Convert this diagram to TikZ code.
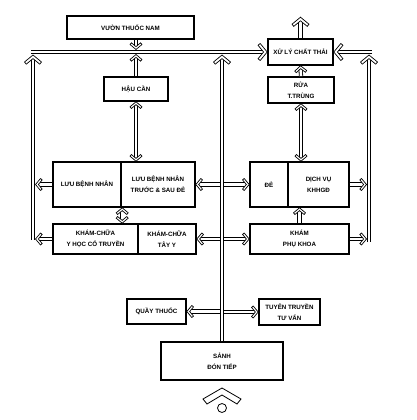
\documentclass[tikz,border=0pt]{standalone}
\usepackage{fontspec}
\setmainfont{Liberation Sans}
\usetikzlibrary{calc, decorations.markings}

% open chevron heads, tip at the origin, pointing along x
\newcommand{\bighead}[1][0]{\draw[head, rotate=#1] (0,0) -- (-7,8.5) -- (-9.16,6.72)
  -- (-3.63,0) -- (-9.16,-6.72) -- (-7,-8.5) -- cycle;}
\newcommand{\smallhead}[1][0]{\draw[head, rotate=#1] (0,0) -- (-5,6) -- (-6.69,4.59)
  -- (-2.86,0) -- (-6.69,-4.59) -- (-5,-6) -- cycle;}

\begin{document}
\begin{tikzpicture}[x=1pt, y=-1pt,
  room/.style={draw, line width=1.6pt, align=center, inner sep=0pt,
               font=\fontsize{6.2}{11}\selectfont\bfseries},
  head/.style={draw=black, fill=white, line width=0.7pt, line join=miter},
  pipe/.style={draw, double, double distance=2.6pt, line width=0.8pt},
  flow/.style={pipe, shorten >=3.6pt, postaction={decorate, decoration={markings,
               mark=at position 1 with {\bighead}}}},
  branch/.style={pipe, shorten >=2.8pt, postaction={decorate, decoration={markings,
               mark=at position 1 with {\smallhead}}}},
  flowtwo/.style={pipe, shorten >=2.8pt, shorten <=2.8pt, postaction={decorate,
               decoration={markings, mark=at position 0 with {\smallhead[180]},
               mark=at position 1 with {\smallhead}}}}]
  \useasboundingbox (0,0) rectangle (417,420);

  % rooms
  \node[room, minimum width=127pt, minimum height=23pt] (vuon) at (130.5,27.5) {VƯỜN THUỐC NAM};
  \node[room, minimum width=64pt, minimum height=24pt] (haucan) at (136,89) {HẬU CẦN};
  \node[room, minimum width=65pt, minimum height=26pt] (xuly) at (300.5,52) {XỬ LÝ CHẤT THẢI};
  \node[room, minimum width=66pt, minimum height=26pt] (rua) at (301,90) {RỬA\\T.TRÙNG};
  \node[room, minimum width=68pt, minimum height=45pt] (luu) at (87,184.5) {LƯU BỆNH NHÂN};
  \node[room, minimum width=74pt, minimum height=45pt] (luusd) at (158,184.5) {LƯU BỆNH NHÂN\\TRƯỚC \& SAU ĐẺ};
  \node[room, minimum width=85pt, minimum height=30pt] (khamyhct) at (95.5,239) {KHÁM-CHỮA\\Y HỌC CỔ TRUYỀN};
  \node[room, minimum width=58pt, minimum height=30pt] (khamtayy) at (167,239) {KHÁM-CHỮA\\TÂY Y};
  \node[room, minimum width=38pt, minimum height=45pt] (de) at (269,184.5) {ĐẺ};
  \node[room, minimum width=61pt, minimum height=45pt] (dichvu) at (318.5,184.5) {DỊCH VỤ\\KHHGĐ};
  \node[room, minimum width=99pt, minimum height=30pt] (phukhoa) at (299.5,239) {KHÁM\\PHỤ KHOA};
  \node[room, minimum width=59pt, minimum height=25pt] (quay) at (156.5,311.5) {QUẦY THUỐC};
  \node[room, minimum width=61pt, minimum height=26pt] (tuyen) at (289.5,312) {TUYÊN TRUYỀN\\TƯ VẤN};
  \node[room, minimum width=122pt, minimum height=38pt] (sanh) at (222,361) {SẢNH\\ĐÓN TIẾP};

  % line ends
  \coordinate (hl) at (31,52);
  \coordinate (hr) at (372,52);
  \coordinate (lbot) at (33,240);
  \coordinate (rbot) at (369,242);
  \coordinate (exhaust) at ($(xuly.north)+(0,-21)$);

  % short links
  \draw[flow] (xuly.north) -- (exhaust);
  \draw[branch] (rua.north) -- (xuly.south);
  \draw[flowtwo] (rua.south) -- (rua.south |- dichvu.north);
  \draw[branch] (phukhoa.north) -- (phukhoa.north |- dichvu.south);
  \draw[flowtwo] (haucan.south) -- (haucan.south |- luusd.north);
  \draw[flowtwo] ([xshift=2pt]luusd.south west) -- ([xshift=2pt]luusd.south west |- khamyhct.north);
  \draw[branch] (haucan.north |- vuon.south) -- ($(haucan.north |- hl)+(0,-2.5)$);
  \draw[branch] (haucan.north) -- ($(haucan.north |- hl)+(0,2.5)$);

  % out to the side lines
  \draw[branch] (luu.west) -- ($(luu.west -| lbot)+(2.5,0)$);
  \draw[branch] (khamyhct.west) -- ($(khamyhct.west -| lbot)+(2.5,0)$);
  \draw[branch] (dichvu.east) -- ($(dichvu.east -| rbot)+(-2.5,0)$);
  \draw[branch] (phukhoa.east) -- ($(phukhoa.east -| rbot)+(-2.5,0)$);

  % from the main corridor
  \draw[branch] (sanh.north |- luusd.east) -- (luusd.east);
  \draw[branch] (sanh.north |- de.west) -- (de.west);
  \draw[branch] (sanh.north |- khamtayy.east) -- (khamtayy.east);
  \draw[branch] (sanh.north |- phukhoa.west) -- (phukhoa.west);
  \draw[branch] (sanh.north |- quay.east) -- (quay.east);
  \draw[branch] (sanh.north |- tuyen.west) -- (tuyen.west);

  % long lines
  \draw[flow] (sanh.north) -- ($(sanh.north |- hl)+(0,3)$);
  \draw[flow] (lbot) -- ($(lbot |- hl)+(0,3)$);
  \draw[flow] (rbot) -- ($(rbot |- hr)+(0,3)$);
  \draw[flow] (hl) -- (xuly.west);
  \draw[flow] (hr) -- (xuly.east);

  % entrance
  \draw[line width=0.8pt, line join=miter] (203,399) -- (222,388) -- (241,399) -- (237,404)
    -- (222,395) -- (207,404) -- cycle;
  \draw[line width=0.8pt] (222,408) circle (4.5);
\end{tikzpicture}
\end{document}
